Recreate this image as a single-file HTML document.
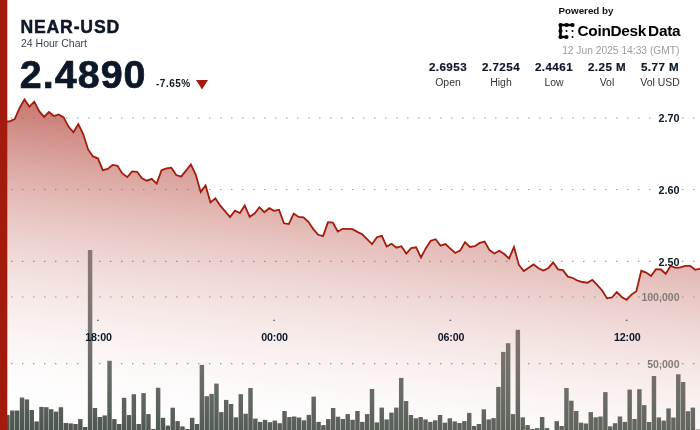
<!DOCTYPE html>
<html><head><meta charset="utf-8"><title>NEAR-USD 24 Hour Chart</title>
<style>
html,body{margin:0;padding:0;background:#fff;}
body{width:700px;height:430px;overflow:hidden;position:relative;font-family:"Liberation Sans",sans-serif;}
svg{position:absolute;left:0;top:0;}
.t{position:absolute;white-space:nowrap;line-height:1;}
</style></head><body>
<svg width="700" height="430" viewBox="0 0 700 430">
<defs>
<linearGradient id="g" gradientUnits="userSpaceOnUse" x1="17" y1="98" x2="-21.16" y2="425.55">
<stop offset="0" stop-color="#a31b0d" stop-opacity="0.6"/>
<stop offset="1" stop-color="#ffffff" stop-opacity="0"/>
</linearGradient>
<linearGradient id="bg" gradientUnits="userSpaceOnUse" x1="0" y1="250" x2="0" y2="430"><stop offset="0" stop-color="#4b554d" stop-opacity="0.82"/><stop offset="1" stop-color="#4b554d" stop-opacity="1"/></linearGradient>
</defs>
<g fill="url(#bg)">
<rect x="5.22" y="415.0" width="4.45" height="15.0"/>
<rect x="10.08" y="410.5" width="4.45" height="19.5"/>
<rect x="14.94" y="410.5" width="4.45" height="19.5"/>
<rect x="19.80" y="397.5" width="4.45" height="32.5"/>
<rect x="24.66" y="399.4" width="4.45" height="30.6"/>
<rect x="29.52" y="410.0" width="4.45" height="20.0"/>
<rect x="34.38" y="421.4" width="4.45" height="8.6"/>
<rect x="39.24" y="406.9" width="4.45" height="23.1"/>
<rect x="44.11" y="407.2" width="4.45" height="22.8"/>
<rect x="48.97" y="409.2" width="4.45" height="20.8"/>
<rect x="53.83" y="411.6" width="4.45" height="18.4"/>
<rect x="58.69" y="407.2" width="4.45" height="22.8"/>
<rect x="63.55" y="423.0" width="4.45" height="7.0"/>
<rect x="68.41" y="423.4" width="4.45" height="6.6"/>
<rect x="73.27" y="424.0" width="4.45" height="6.0"/>
<rect x="78.13" y="419.1" width="4.45" height="10.9"/>
<rect x="82.99" y="427.0" width="4.45" height="3.0"/>
<rect x="87.86" y="250.0" width="4.45" height="180.0"/>
<rect x="92.72" y="408.0" width="4.45" height="22.0"/>
<rect x="97.58" y="417.0" width="4.45" height="13.0"/>
<rect x="102.44" y="415.4" width="4.45" height="14.6"/>
<rect x="107.30" y="360.8" width="4.45" height="69.2"/>
<rect x="112.16" y="419.1" width="4.45" height="10.9"/>
<rect x="117.02" y="424.0" width="4.45" height="6.0"/>
<rect x="121.88" y="397.8" width="4.45" height="32.2"/>
<rect x="126.74" y="415.0" width="4.45" height="15.0"/>
<rect x="131.61" y="394.2" width="4.45" height="35.8"/>
<rect x="136.47" y="424.0" width="4.45" height="6.0"/>
<rect x="141.33" y="393.1" width="4.45" height="36.9"/>
<rect x="146.19" y="414.1" width="4.45" height="15.9"/>
<rect x="151.05" y="428.9" width="4.45" height="1.1"/>
<rect x="155.91" y="387.7" width="4.45" height="42.3"/>
<rect x="160.77" y="417.8" width="4.45" height="12.2"/>
<rect x="165.63" y="425.6" width="4.45" height="4.4"/>
<rect x="170.49" y="407.7" width="4.45" height="22.3"/>
<rect x="175.36" y="421.1" width="4.45" height="8.9"/>
<rect x="180.22" y="426.4" width="4.45" height="3.6"/>
<rect x="185.08" y="428.9" width="4.45" height="1.1"/>
<rect x="189.94" y="417.8" width="4.45" height="12.2"/>
<rect x="194.80" y="424.0" width="4.45" height="6.0"/>
<rect x="199.66" y="364.9" width="4.45" height="65.1"/>
<rect x="204.52" y="396.2" width="4.45" height="33.8"/>
<rect x="209.38" y="393.9" width="4.45" height="36.1"/>
<rect x="214.24" y="383.6" width="4.45" height="46.4"/>
<rect x="219.11" y="412.1" width="4.45" height="17.9"/>
<rect x="223.97" y="399.9" width="4.45" height="30.1"/>
<rect x="228.83" y="404.0" width="4.45" height="26.0"/>
<rect x="233.69" y="417.3" width="4.45" height="12.7"/>
<rect x="238.55" y="394.2" width="4.45" height="35.8"/>
<rect x="243.41" y="413.7" width="4.45" height="16.3"/>
<rect x="248.27" y="388.0" width="4.45" height="42.0"/>
<rect x="253.13" y="418.6" width="4.45" height="11.4"/>
<rect x="257.99" y="421.9" width="4.45" height="8.1"/>
<rect x="262.86" y="419.9" width="4.45" height="10.1"/>
<rect x="267.72" y="422.2" width="4.45" height="7.8"/>
<rect x="272.58" y="420.6" width="4.45" height="9.4"/>
<rect x="277.44" y="423.2" width="4.45" height="6.8"/>
<rect x="282.30" y="411.0" width="4.45" height="19.0"/>
<rect x="287.16" y="417.0" width="4.45" height="13.0"/>
<rect x="292.02" y="416.5" width="4.45" height="13.5"/>
<rect x="296.88" y="417.5" width="4.45" height="12.5"/>
<rect x="301.74" y="420.3" width="4.45" height="9.7"/>
<rect x="306.61" y="414.9" width="4.45" height="15.1"/>
<rect x="311.47" y="396.6" width="4.45" height="33.4"/>
<rect x="316.33" y="421.9" width="4.45" height="8.1"/>
<rect x="321.19" y="425.1" width="4.45" height="4.9"/>
<rect x="326.05" y="419.1" width="4.45" height="10.9"/>
<rect x="330.91" y="408.0" width="4.45" height="22.0"/>
<rect x="335.77" y="416.7" width="4.45" height="13.3"/>
<rect x="340.63" y="419.0" width="4.45" height="11.0"/>
<rect x="345.49" y="414.1" width="4.45" height="15.9"/>
<rect x="350.36" y="419.8" width="4.45" height="10.2"/>
<rect x="355.22" y="411.0" width="4.45" height="19.0"/>
<rect x="360.08" y="421.9" width="4.45" height="8.1"/>
<rect x="364.94" y="414.1" width="4.45" height="15.9"/>
<rect x="369.80" y="389.0" width="4.45" height="41.0"/>
<rect x="374.66" y="422.4" width="4.45" height="7.6"/>
<rect x="379.52" y="407.6" width="4.45" height="22.4"/>
<rect x="384.38" y="419.4" width="4.45" height="10.6"/>
<rect x="389.24" y="412.6" width="4.45" height="17.4"/>
<rect x="394.11" y="407.6" width="4.45" height="22.4"/>
<rect x="398.97" y="377.9" width="4.45" height="52.1"/>
<rect x="403.83" y="401.0" width="4.45" height="29.0"/>
<rect x="408.69" y="415.0" width="4.45" height="15.0"/>
<rect x="413.55" y="418.3" width="4.45" height="11.7"/>
<rect x="418.41" y="417.0" width="4.45" height="13.0"/>
<rect x="423.27" y="419.4" width="4.45" height="10.6"/>
<rect x="428.13" y="421.9" width="4.45" height="8.1"/>
<rect x="432.99" y="420.3" width="4.45" height="9.7"/>
<rect x="437.86" y="415.0" width="4.45" height="15.0"/>
<rect x="442.72" y="422.7" width="4.45" height="7.3"/>
<rect x="447.58" y="418.3" width="4.45" height="11.7"/>
<rect x="452.44" y="421.4" width="4.45" height="8.6"/>
<rect x="457.30" y="423.0" width="4.45" height="7.0"/>
<rect x="462.16" y="421.1" width="4.45" height="8.9"/>
<rect x="467.02" y="412.9" width="4.45" height="17.1"/>
<rect x="471.88" y="426.0" width="4.45" height="4.0"/>
<rect x="476.74" y="424.0" width="4.45" height="6.0"/>
<rect x="481.61" y="409.3" width="4.45" height="20.7"/>
<rect x="486.47" y="419.4" width="4.45" height="10.6"/>
<rect x="491.33" y="418.1" width="4.45" height="11.9"/>
<rect x="496.19" y="386.9" width="4.45" height="43.1"/>
<rect x="501.05" y="351.9" width="4.45" height="78.1"/>
<rect x="505.91" y="343.2" width="4.45" height="86.8"/>
<rect x="510.77" y="414.1" width="4.45" height="15.9"/>
<rect x="515.63" y="329.8" width="4.45" height="100.2"/>
<rect x="520.49" y="417.3" width="4.45" height="12.7"/>
<rect x="525.36" y="425.1" width="4.45" height="4.9"/>
<rect x="530.22" y="428.9" width="4.45" height="1.1"/>
<rect x="535.08" y="428.1" width="4.45" height="1.9"/>
<rect x="539.94" y="417.0" width="4.45" height="13.0"/>
<rect x="544.80" y="428.1" width="4.45" height="1.9"/>
<rect x="554.52" y="421.1" width="4.45" height="8.9"/>
<rect x="559.38" y="426.0" width="4.45" height="4.0"/>
<rect x="564.24" y="388.0" width="4.45" height="42.0"/>
<rect x="569.11" y="400.7" width="4.45" height="29.3"/>
<rect x="573.97" y="411.0" width="4.45" height="19.0"/>
<rect x="578.83" y="422.7" width="4.45" height="7.3"/>
<rect x="583.69" y="423.5" width="4.45" height="6.5"/>
<rect x="588.55" y="412.1" width="4.45" height="17.9"/>
<rect x="593.41" y="417.3" width="4.45" height="12.7"/>
<rect x="598.27" y="416.5" width="4.45" height="13.5"/>
<rect x="603.13" y="392.1" width="4.45" height="37.9"/>
<rect x="607.99" y="426.3" width="4.45" height="3.7"/>
<rect x="612.86" y="423.2" width="4.45" height="6.8"/>
<rect x="617.72" y="416.5" width="4.45" height="13.5"/>
<rect x="622.58" y="421.9" width="4.45" height="8.1"/>
<rect x="627.44" y="389.6" width="4.45" height="40.4"/>
<rect x="632.30" y="419.0" width="4.45" height="11.0"/>
<rect x="637.16" y="389.2" width="4.45" height="40.8"/>
<rect x="642.02" y="405.1" width="4.45" height="24.9"/>
<rect x="646.88" y="422.0" width="4.45" height="8.0"/>
<rect x="651.74" y="376.0" width="4.45" height="54.0"/>
<rect x="656.61" y="417.4" width="4.45" height="12.6"/>
<rect x="661.47" y="420.6" width="4.45" height="9.4"/>
<rect x="666.33" y="408.4" width="4.45" height="21.6"/>
<rect x="671.19" y="417.5" width="4.45" height="12.5"/>
<rect x="676.05" y="374.3" width="4.45" height="55.7"/>
<rect x="680.91" y="382.0" width="4.45" height="48.0"/>
<rect x="685.77" y="411.2" width="4.45" height="18.8"/>
<rect x="690.63" y="407.6" width="4.45" height="22.4"/>
<rect x="695.49" y="429.5" width="4.45" height="0.5"/>
</g>
<path d="M0.00,122.00 L4.90,121.50 L9.79,121.30 L14.69,119.00 L19.58,108.00 L24.48,99.40 L29.37,106.60 L34.27,101.70 L39.16,111.20 L44.06,116.90 L48.95,112.00 L53.85,116.00 L58.74,114.40 L63.64,117.40 L68.53,126.60 L73.43,132.30 L78.32,124.20 L83.22,134.00 L88.11,149.40 L93.01,156.40 L97.90,158.30 L102.80,170.10 L107.69,169.00 L112.59,164.90 L117.48,165.70 L122.38,173.40 L127.27,177.10 L132.17,171.40 L137.06,171.80 L141.96,178.30 L146.85,180.70 L151.75,178.80 L156.64,183.60 L161.54,170.10 L166.43,168.50 L171.33,167.70 L176.22,175.00 L181.12,176.60 L186.01,170.60 L190.91,164.40 L195.80,174.80 L200.70,191.90 L205.59,185.40 L210.49,202.50 L215.38,198.40 L220.28,205.70 L225.17,211.40 L230.07,217.10 L234.97,210.60 L239.86,213.00 L244.76,205.40 L249.65,216.80 L254.55,213.50 L259.44,207.30 L264.34,212.20 L269.23,208.20 L274.13,210.90 L279.02,209.80 L283.92,223.30 L288.81,224.10 L293.71,213.60 L298.60,216.90 L303.50,217.40 L308.39,221.80 L313.29,229.10 L318.18,234.80 L323.08,236.10 L327.97,222.10 L332.87,222.60 L337.76,231.50 L342.66,228.80 L347.55,228.80 L352.45,229.10 L357.34,231.90 L362.24,234.30 L367.13,239.20 L372.03,244.20 L376.92,237.20 L381.82,235.80 L386.71,246.50 L391.61,243.80 L396.50,247.70 L401.40,246.20 L406.29,253.50 L411.19,248.20 L416.08,247.30 L420.98,257.40 L425.87,248.20 L430.77,240.80 L435.66,239.20 L440.56,245.70 L445.45,244.10 L450.35,248.60 L455.24,253.00 L460.14,250.60 L465.03,242.10 L469.93,247.00 L474.83,246.20 L479.72,242.90 L484.62,241.60 L489.51,250.20 L494.41,253.50 L499.30,250.70 L504.20,254.00 L509.09,258.40 L513.99,247.00 L518.88,264.90 L523.78,271.10 L528.67,267.70 L533.57,264.40 L538.46,268.20 L543.36,270.60 L548.25,268.20 L553.15,262.50 L558.04,269.30 L562.94,270.10 L567.83,276.60 L572.73,278.00 L577.62,280.70 L582.52,282.00 L587.41,282.70 L592.31,279.90 L597.20,284.80 L602.10,290.50 L606.99,298.30 L611.89,297.50 L616.78,292.10 L621.68,297.00 L626.57,299.80 L631.47,294.60 L636.36,291.30 L641.26,270.80 L646.15,272.60 L651.05,276.00 L655.94,269.20 L660.84,269.50 L665.73,273.80 L670.63,265.90 L675.52,267.80 L680.42,267.30 L685.31,265.80 L690.21,265.80 L695.10,269.80 L700.00,268.60 L700,430 L0,430 Z" fill="url(#g)"/>
<path d="M0.00,122.00 L4.90,121.50 L9.79,121.30 L14.69,119.00 L19.58,108.00 L24.48,99.40 L29.37,106.60 L34.27,101.70 L39.16,111.20 L44.06,116.90 L48.95,112.00 L53.85,116.00 L58.74,114.40 L63.64,117.40 L68.53,126.60 L73.43,132.30 L78.32,124.20 L83.22,134.00 L88.11,149.40 L93.01,156.40 L97.90,158.30 L102.80,170.10 L107.69,169.00 L112.59,164.90 L117.48,165.70 L122.38,173.40 L127.27,177.10 L132.17,171.40 L137.06,171.80 L141.96,178.30 L146.85,180.70 L151.75,178.80 L156.64,183.60 L161.54,170.10 L166.43,168.50 L171.33,167.70 L176.22,175.00 L181.12,176.60 L186.01,170.60 L190.91,164.40 L195.80,174.80 L200.70,191.90 L205.59,185.40 L210.49,202.50 L215.38,198.40 L220.28,205.70 L225.17,211.40 L230.07,217.10 L234.97,210.60 L239.86,213.00 L244.76,205.40 L249.65,216.80 L254.55,213.50 L259.44,207.30 L264.34,212.20 L269.23,208.20 L274.13,210.90 L279.02,209.80 L283.92,223.30 L288.81,224.10 L293.71,213.60 L298.60,216.90 L303.50,217.40 L308.39,221.80 L313.29,229.10 L318.18,234.80 L323.08,236.10 L327.97,222.10 L332.87,222.60 L337.76,231.50 L342.66,228.80 L347.55,228.80 L352.45,229.10 L357.34,231.90 L362.24,234.30 L367.13,239.20 L372.03,244.20 L376.92,237.20 L381.82,235.80 L386.71,246.50 L391.61,243.80 L396.50,247.70 L401.40,246.20 L406.29,253.50 L411.19,248.20 L416.08,247.30 L420.98,257.40 L425.87,248.20 L430.77,240.80 L435.66,239.20 L440.56,245.70 L445.45,244.10 L450.35,248.60 L455.24,253.00 L460.14,250.60 L465.03,242.10 L469.93,247.00 L474.83,246.20 L479.72,242.90 L484.62,241.60 L489.51,250.20 L494.41,253.50 L499.30,250.70 L504.20,254.00 L509.09,258.40 L513.99,247.00 L518.88,264.90 L523.78,271.10 L528.67,267.70 L533.57,264.40 L538.46,268.20 L543.36,270.60 L548.25,268.20 L553.15,262.50 L558.04,269.30 L562.94,270.10 L567.83,276.60 L572.73,278.00 L577.62,280.70 L582.52,282.00 L587.41,282.70 L592.31,279.90 L597.20,284.80 L602.10,290.50 L606.99,298.30 L611.89,297.50 L616.78,292.10 L621.68,297.00 L626.57,299.80 L631.47,294.60 L636.36,291.30 L641.26,270.80 L646.15,272.60 L651.05,276.00 L655.94,269.20 L660.84,269.50 L665.73,273.80 L670.63,265.90 L675.52,267.80 L680.42,267.30 L685.31,265.80 L690.21,265.80 L695.10,269.80 L700.00,268.60" fill="none" stroke="#a31b0d" stroke-width="1.8" stroke-linejoin="miter" stroke-miterlimit="6" stroke-linecap="butt"/>
<g stroke="#6e6e6e" stroke-width="1.15" stroke-dasharray="1 10" fill="none">
<line x1="0.3" y1="118" x2="700" y2="118"/>
<line x1="0.3" y1="189.5" x2="700" y2="189.5"/>
<line x1="0.3" y1="261.3" x2="700" y2="261.3"/>
<line x1="0.3" y1="297" x2="700" y2="297"/>
<line x1="0.3" y1="363.6" x2="700" y2="363.6"/>
</g>
<rect x="0" y="0" width="7.3" height="430" fill="#a31b0d"/>
<g font-family="Liberation Sans, sans-serif" font-weight="bold" font-size="10.8" text-anchor="end" fill="#0c1728">
<text x="679.5" y="122.2">2.70</text>
<text x="679.5" y="193.7">2.60</text>
<text x="679.5" y="265.6">2.50</text>
</g>
<g font-family="Liberation Sans, sans-serif" font-weight="bold" font-size="10.55" text-anchor="end" fill="#857b78">
<text x="679.5" y="300.9">100,000</text>
<text x="679.5" y="367.5">50,000</text>
</g>
<g font-family="Liberation Sans, sans-serif" font-weight="bold" font-size="10.7" letter-spacing="-0.15" text-anchor="middle" fill="#0c1728">
<text x="98.5" y="340.6">18:00</text>
<text x="274.5" y="340.6">00:00</text>
<text x="451" y="340.6">06:00</text>
<text x="627.3" y="340.6">12:00</text>
</g>
<g fill="#0c1728">
<rect x="97" y="319.8" width="1.7" height="0.9" opacity="0.85"/>
<rect x="273.3" y="319.8" width="1.7" height="0.9" opacity="0.85"/>
<rect x="449.5" y="319.8" width="1.7" height="0.9" opacity="0.85"/>
<rect x="625.8" y="319.8" width="1.7" height="0.9" opacity="0.85"/>
</g>
<polygon points="196,80 208,80 202,89.4" fill="#a31b0d"/>
<g fill="#000" stroke="#000">
<path d="M560.5,25 H572.5 M560.5,25 V37 H566.5" fill="none" stroke-width="2.6" stroke-linecap="round" stroke-linejoin="round"/>
<g stroke="none">
<circle cx="560.5" cy="25" r="2.1"/><circle cx="566.5" cy="25" r="2.1"/><circle cx="572.5" cy="25" r="2.1"/>
<circle cx="560.5" cy="31" r="2.1"/><circle cx="560.5" cy="37" r="2.1"/><circle cx="566.5" cy="37" r="2.1"/>
<circle cx="566.5" cy="31" r="1"/><circle cx="572.5" cy="31" r="1"/><circle cx="572.5" cy="37" r="1"/>
</g>
</g>
</svg>
<div class="t" id="sym" style="left:20.4px;top:19.2px;font-size:17.6px;font-weight:bold;color:#0c1728;letter-spacing:0.85px;-webkit-text-stroke:0.45px #0c1728;">NEAR-USD</div>
<div class="t" id="sub" style="left:21px;top:37.5px;font-size:10.5px;color:#3a3f4b;">24 Hour Chart</div>
<div class="t" id="price" style="left:19.8px;top:54.9px;font-size:39.4px;font-weight:bold;color:#0c1728;letter-spacing:1.05px;-webkit-text-stroke:0.7px #0c1728;">2.4890</div>
<div class="t" id="chg" style="left:156px;top:79.3px;font-size:10px;font-weight:bold;color:#0c1728;letter-spacing:0.5px;">-7.65%</div>
<div class="t" id="pow" style="left:558.5px;top:5.5px;font-size:9.8px;font-weight:bold;color:#111;">Powered by</div>
<div class="t" id="logo" style="left:577.5px;top:22.5px;font-size:15.4px;font-weight:bold;color:#000;letter-spacing:-0.3px;">CoinDesk<span style="margin-left:2px">Data</span></div>
<div class="t" id="date" style="right:20.5px;top:45.8px;font-size:10.25px;color:#9c9c9c;">12 Jun 2025 14:33 (GMT)</div>
<div class="t sv" style="left:408px;width:80px;text-align:center;top:61.3px;font-size:11.6px;font-weight:bold;color:#0c1728;letter-spacing:0.45px;-webkit-text-stroke:0.2px #0c1728;">2.6953</div>
<div class="t sl" style="left:408px;width:80px;text-align:center;top:77.6px;font-size:10.45px;color:#333;">Open</div>
<div class="t sv" style="left:461px;width:80px;text-align:center;top:61.3px;font-size:11.6px;font-weight:bold;color:#0c1728;letter-spacing:0.45px;-webkit-text-stroke:0.2px #0c1728;">2.7254</div>
<div class="t sl" style="left:461px;width:80px;text-align:center;top:77.6px;font-size:10.45px;color:#333;">High</div>
<div class="t sv" style="left:514px;width:80px;text-align:center;top:61.3px;font-size:11.6px;font-weight:bold;color:#0c1728;letter-spacing:0.45px;-webkit-text-stroke:0.2px #0c1728;">2.4461</div>
<div class="t sl" style="left:514px;width:80px;text-align:center;top:77.6px;font-size:10.45px;color:#333;">Low</div>
<div class="t sv" style="left:567px;width:80px;text-align:center;top:61.3px;font-size:11.6px;font-weight:bold;color:#0c1728;letter-spacing:0.45px;-webkit-text-stroke:0.2px #0c1728;">2.25 M</div>
<div class="t sl" style="left:567px;width:80px;text-align:center;top:77.6px;font-size:10.45px;color:#333;">Vol</div>
<div class="t sv" style="left:620px;width:80px;text-align:center;top:61.3px;font-size:11.6px;font-weight:bold;color:#0c1728;letter-spacing:0.45px;-webkit-text-stroke:0.2px #0c1728;">5.77 M</div>
<div class="t sl" style="left:620px;width:80px;text-align:center;top:77.6px;font-size:10.45px;color:#333;">Vol USD</div>
</body></html>
